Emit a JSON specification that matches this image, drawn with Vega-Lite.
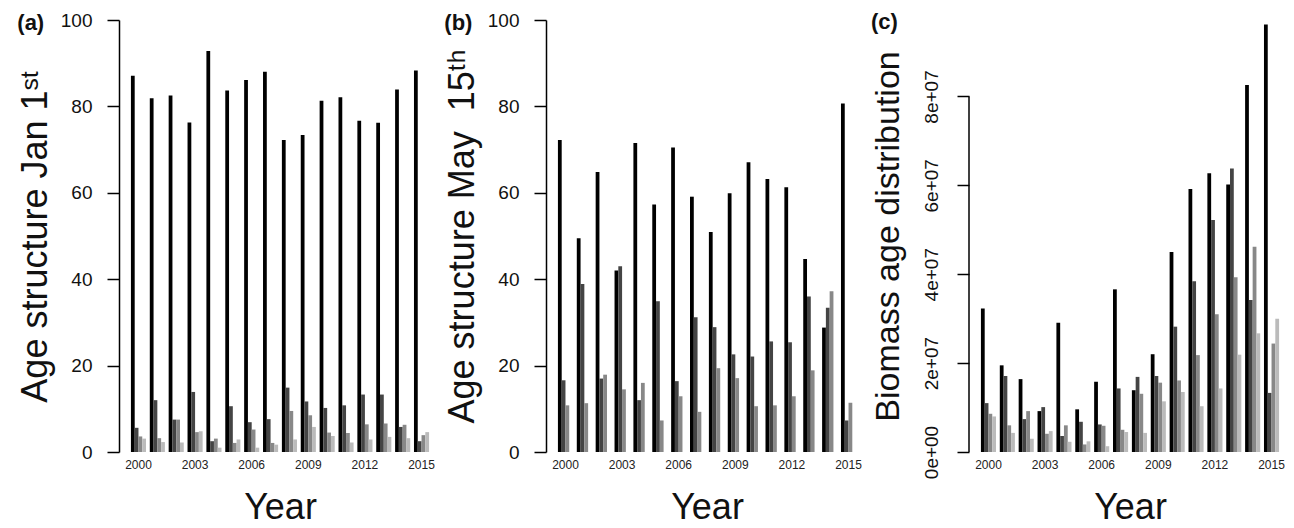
{
  "$schema": "https://vega.github.io/schema/vega-lite/v6.json",
  "background": "white",
  "padding": {"left": 17, "top": 11, "right": 2, "bottom": 0},
  "spacing": 3,
  "config": {
    "font": "Liberation Sans",
    "view": {"stroke": null},
    "axis": {
      "grid": false,
      "domainColor": "#000000",
      "domainWidth": 1.5,
      "tickColor": "#000000",
      "tickWidth": 1.5,
      "tickSize": 12,
      "labelColor": "#111111",
      "titleColor": "#111111",
      "titleFontWeight": "normal",
      "titleFontSize": 36,
      "labelFontSize": 19
    },
    "axisX": {
      "domain": false,
      "ticks": false,
      "labelAngle": 0,
      "labelFontSize": 12,
      "labelPadding": 7,
      "titlePadding": 20,
      "labelColor": "#222222"
    },
    "title": {"fontSize": 22, "fontWeight": "bold", "anchor": "start", "frame": "bounds", "baseline": "bottom", "color": "#111111"}
  },
  "datasets": {
    "jan": [
      {"year": 2000, "age": 1, "value": 87.1}, {"year": 2000, "age": 2, "value": 5.6}, {"year": 2000, "age": 3, "value": 3.6}, {"year": 2000, "age": 4, "value": 3.1},
      {"year": 2001, "age": 1, "value": 81.9}, {"year": 2001, "age": 2, "value": 12.0}, {"year": 2001, "age": 3, "value": 3.2}, {"year": 2001, "age": 4, "value": 2.3},
      {"year": 2002, "age": 1, "value": 82.5}, {"year": 2002, "age": 2, "value": 7.5}, {"year": 2002, "age": 3, "value": 7.5}, {"year": 2002, "age": 4, "value": 2.2},
      {"year": 2003, "age": 1, "value": 76.3}, {"year": 2003, "age": 2, "value": 13.9}, {"year": 2003, "age": 3, "value": 4.6}, {"year": 2003, "age": 4, "value": 4.8},
      {"year": 2004, "age": 1, "value": 92.8}, {"year": 2004, "age": 2, "value": 2.5}, {"year": 2004, "age": 3, "value": 3.1}, {"year": 2004, "age": 4, "value": 1.0},
      {"year": 2005, "age": 1, "value": 83.7}, {"year": 2005, "age": 2, "value": 10.6}, {"year": 2005, "age": 3, "value": 2.1}, {"year": 2005, "age": 4, "value": 2.9},
      {"year": 2006, "age": 1, "value": 86.1}, {"year": 2006, "age": 2, "value": 6.9}, {"year": 2006, "age": 3, "value": 5.2}, {"year": 2006, "age": 4, "value": 1.0},
      {"year": 2007, "age": 1, "value": 88.0}, {"year": 2007, "age": 2, "value": 7.6}, {"year": 2007, "age": 3, "value": 2.1}, {"year": 2007, "age": 4, "value": 1.7},
      {"year": 2008, "age": 1, "value": 72.2}, {"year": 2008, "age": 2, "value": 14.9}, {"year": 2008, "age": 3, "value": 9.5}, {"year": 2008, "age": 4, "value": 2.9},
      {"year": 2009, "age": 1, "value": 73.4}, {"year": 2009, "age": 2, "value": 11.7}, {"year": 2009, "age": 3, "value": 8.5}, {"year": 2009, "age": 4, "value": 5.8},
      {"year": 2010, "age": 1, "value": 81.3}, {"year": 2010, "age": 2, "value": 10.2}, {"year": 2010, "age": 3, "value": 4.5}, {"year": 2010, "age": 4, "value": 3.7},
      {"year": 2011, "age": 1, "value": 82.1}, {"year": 2011, "age": 2, "value": 10.8}, {"year": 2011, "age": 3, "value": 4.4}, {"year": 2011, "age": 4, "value": 2.2},
      {"year": 2012, "age": 1, "value": 76.7}, {"year": 2012, "age": 2, "value": 13.3}, {"year": 2012, "age": 3, "value": 6.4}, {"year": 2012, "age": 4, "value": 2.9},
      {"year": 2013, "age": 1, "value": 76.2}, {"year": 2013, "age": 2, "value": 13.3}, {"year": 2013, "age": 3, "value": 6.6}, {"year": 2013, "age": 4, "value": 3.5},
      {"year": 2014, "age": 1, "value": 83.9}, {"year": 2014, "age": 2, "value": 5.8}, {"year": 2014, "age": 3, "value": 6.3}, {"year": 2014, "age": 4, "value": 3.2},
      {"year": 2015, "age": 1, "value": 88.3}, {"year": 2015, "age": 2, "value": 2.5}, {"year": 2015, "age": 3, "value": 3.9}, {"year": 2015, "age": 4, "value": 4.6}
    ],
    "may": [
      {"year": 2000, "age": 1, "value": 72.2}, {"year": 2000, "age": 2, "value": 16.6}, {"year": 2000, "age": 3, "value": 10.8},
      {"year": 2001, "age": 1, "value": 49.5}, {"year": 2001, "age": 2, "value": 38.9}, {"year": 2001, "age": 3, "value": 11.3},
      {"year": 2002, "age": 1, "value": 64.8}, {"year": 2002, "age": 2, "value": 17.0}, {"year": 2002, "age": 3, "value": 17.9},
      {"year": 2003, "age": 1, "value": 42.0}, {"year": 2003, "age": 2, "value": 43.0}, {"year": 2003, "age": 3, "value": 14.5},
      {"year": 2004, "age": 1, "value": 71.5}, {"year": 2004, "age": 2, "value": 12.0}, {"year": 2004, "age": 3, "value": 16.0},
      {"year": 2005, "age": 1, "value": 57.3}, {"year": 2005, "age": 2, "value": 34.9}, {"year": 2005, "age": 3, "value": 7.3},
      {"year": 2006, "age": 1, "value": 70.5}, {"year": 2006, "age": 2, "value": 16.4}, {"year": 2006, "age": 3, "value": 12.9},
      {"year": 2007, "age": 1, "value": 59.1}, {"year": 2007, "age": 2, "value": 31.2}, {"year": 2007, "age": 3, "value": 9.3},
      {"year": 2008, "age": 1, "value": 50.9}, {"year": 2008, "age": 2, "value": 28.9}, {"year": 2008, "age": 3, "value": 19.4},
      {"year": 2009, "age": 1, "value": 59.9}, {"year": 2009, "age": 2, "value": 22.6}, {"year": 2009, "age": 3, "value": 17.1},
      {"year": 2010, "age": 1, "value": 67.1}, {"year": 2010, "age": 2, "value": 22.1}, {"year": 2010, "age": 3, "value": 10.6},
      {"year": 2011, "age": 1, "value": 63.2}, {"year": 2011, "age": 2, "value": 25.6}, {"year": 2011, "age": 3, "value": 10.8},
      {"year": 2012, "age": 1, "value": 61.3}, {"year": 2012, "age": 2, "value": 25.4}, {"year": 2012, "age": 3, "value": 12.9},
      {"year": 2013, "age": 1, "value": 44.7}, {"year": 2013, "age": 2, "value": 36.0}, {"year": 2013, "age": 3, "value": 18.9},
      {"year": 2014, "age": 1, "value": 28.8}, {"year": 2014, "age": 2, "value": 33.4}, {"year": 2014, "age": 3, "value": 37.2},
      {"year": 2015, "age": 1, "value": 80.7}, {"year": 2015, "age": 2, "value": 7.3}, {"year": 2015, "age": 3, "value": 11.4}
    ],
    "biomass": [
      {"year": 2000, "age": 1, "value": 32300000}, {"year": 2000, "age": 2, "value": 11000000}, {"year": 2000, "age": 3, "value": 8600000}, {"year": 2000, "age": 4, "value": 8000000},
      {"year": 2001, "age": 1, "value": 19500000}, {"year": 2001, "age": 2, "value": 17100000}, {"year": 2001, "age": 3, "value": 6000000}, {"year": 2001, "age": 4, "value": 4300000},
      {"year": 2002, "age": 1, "value": 16400000}, {"year": 2002, "age": 2, "value": 7400000}, {"year": 2002, "age": 3, "value": 9200000}, {"year": 2002, "age": 4, "value": 3000000},
      {"year": 2003, "age": 1, "value": 9200000}, {"year": 2003, "age": 2, "value": 10100000}, {"year": 2003, "age": 3, "value": 4100000}, {"year": 2003, "age": 4, "value": 4700000},
      {"year": 2004, "age": 1, "value": 29100000}, {"year": 2004, "age": 2, "value": 3600000}, {"year": 2004, "age": 3, "value": 6000000}, {"year": 2004, "age": 4, "value": 2300000},
      {"year": 2005, "age": 1, "value": 9600000}, {"year": 2005, "age": 2, "value": 6800000}, {"year": 2005, "age": 3, "value": 1700000}, {"year": 2005, "age": 4, "value": 2400000},
      {"year": 2006, "age": 1, "value": 15800000}, {"year": 2006, "age": 2, "value": 6200000}, {"year": 2006, "age": 3, "value": 5900000}, {"year": 2006, "age": 4, "value": 1300000},
      {"year": 2007, "age": 1, "value": 36600000}, {"year": 2007, "age": 2, "value": 14300000}, {"year": 2007, "age": 3, "value": 5000000}, {"year": 2007, "age": 4, "value": 4500000},
      {"year": 2008, "age": 1, "value": 13900000}, {"year": 2008, "age": 2, "value": 16900000}, {"year": 2008, "age": 3, "value": 13100000}, {"year": 2008, "age": 4, "value": 4300000},
      {"year": 2009, "age": 1, "value": 22000000}, {"year": 2009, "age": 2, "value": 17100000}, {"year": 2009, "age": 3, "value": 15600000}, {"year": 2009, "age": 4, "value": 11400000},
      {"year": 2010, "age": 1, "value": 45000000}, {"year": 2010, "age": 2, "value": 28200000}, {"year": 2010, "age": 3, "value": 16100000}, {"year": 2010, "age": 4, "value": 13500000},
      {"year": 2011, "age": 1, "value": 59200000}, {"year": 2011, "age": 2, "value": 38400000}, {"year": 2011, "age": 3, "value": 21800000}, {"year": 2011, "age": 4, "value": 10300000},
      {"year": 2012, "age": 1, "value": 62700000}, {"year": 2012, "age": 2, "value": 52200000}, {"year": 2012, "age": 3, "value": 31000000}, {"year": 2012, "age": 4, "value": 14300000},
      {"year": 2013, "age": 1, "value": 60200000}, {"year": 2013, "age": 2, "value": 63800000}, {"year": 2013, "age": 3, "value": 39300000}, {"year": 2013, "age": 4, "value": 21900000},
      {"year": 2014, "age": 1, "value": 82600000}, {"year": 2014, "age": 2, "value": 34200000}, {"year": 2014, "age": 3, "value": 46200000}, {"year": 2014, "age": 4, "value": 26700000},
      {"year": 2015, "age": 1, "value": 96200000}, {"year": 2015, "age": 2, "value": 13300000}, {"year": 2015, "age": 3, "value": 24400000}, {"year": 2015, "age": 4, "value": 30000000}
    ]
  },
  "hconcat": [
    {
      "width": 322,
      "height": 432,
      "title": {"text": "(a)", "offset": -24},
      "data": {"name": "jan"},
      "mark": {"type": "bar"},
      "encoding": {
        "x": {"field": "year", "type": "ordinal", "scale": {"paddingInner": 0.2, "paddingOuter": 0.632},
              "axis": {"values": [2000, 2003, 2006, 2009, 2012, 2015], "title": "Year"}},
        "xOffset": {"field": "age", "type": "ordinal", "scale": {"domain": [1, 2, 3, 4], "paddingInner": 0, "paddingOuter": 0}},
        "y": {"field": "value", "type": "quantitative", "scale": {"domain": [0, 100], "nice": false},
              "axis": {"values": [0, 20, 40, 60, 80, 100], "labelAngle": 0, "labelPadding": 15, "titlePadding": 6, "title": "Age structure Jan 1\u02e2\u1d57"}},
        "color": {"field": "age", "type": "ordinal", "scale": {"domain": [1, 2, 3, 4], "range": ["#000000", "#444444", "#888888", "#bbbbbb"]}, "legend": null}
      }
    },
    {
      "width": 322,
      "height": 432,
      "title": {"text": "(b)", "offset": -24},
      "data": {"name": "may"},
      "mark": {"type": "bar"},
      "encoding": {
        "x": {"field": "year", "type": "ordinal", "scale": {"paddingInner": 0.2, "paddingOuter": 0.632},
              "axis": {"values": [2000, 2003, 2006, 2009, 2012, 2015], "title": "Year"}},
        "xOffset": {"field": "age", "type": "ordinal", "scale": {"domain": [1, 2, 3, 4], "paddingInner": 0, "paddingOuter": 0}},
        "y": {"field": "value", "type": "quantitative", "scale": {"domain": [0, 100], "nice": false},
              "axis": {"values": [0, 20, 40, 60, 80, 100], "labelAngle": 0, "labelPadding": 15, "titlePadding": 6, "title": "Age structure May\u00a0 15\u1d57\u02b0"}},
        "color": {"field": "age", "type": "ordinal", "scale": {"domain": [1, 2, 3, 4], "range": ["#000000", "#444444", "#888888", "#bbbbbb"]}, "legend": null}
      }
    },
    {
      "width": 322,
      "height": 432,
      "title": {"text": "(c)", "offset": -14},
      "layer": [
        {
          "data": {"name": "biomass"},
          "mark": {"type": "bar"},
          "encoding": {
            "x": {"field": "year", "type": "ordinal", "scale": {"paddingInner": 0.2, "paddingOuter": 0.632},
                  "axis": {"values": [2000, 2003, 2006, 2009, 2012, 2015], "title": "Year"}},
            "xOffset": {"field": "age", "type": "ordinal", "scale": {"domain": [1, 2, 3, 4], "paddingInner": 0, "paddingOuter": 0}},
            "y": {"field": "value", "type": "quantitative", "scale": {"domain": [0, 97200000], "nice": false},
                  "axis": {"values": [0, 20000000, 40000000, 60000000, 80000000], "domain": false,
                           "labelExpr": "replace(format(datum.value, '.0e'), 'e+', 'e+0')",
                           "labelAngle": 270, "labelAlign": "center", "labelBaseline": "bottom", "labelPadding": 16,
                           "titleFontSize": 34, "titlePadding": 17, "title": "Biomass age distribution"}},
            "color": {"field": "age", "type": "ordinal", "scale": {"domain": [1, 2, 3, 4], "range": ["#000000", "#444444", "#888888", "#bbbbbb"]}, "legend": null}
          }
        },
        {
          "data": {"values": [{}]},
          "mark": {"type": "rule", "color": "#000000", "strokeWidth": 1.5},
          "encoding": {
            "x": {"datum": 2000, "type": "ordinal", "bandPosition": -0.79},
            "y": {"datum": 0, "type": "quantitative"},
            "y2": {"datum": 80000000}
          }
        }
      ]
    }
  ]
}
